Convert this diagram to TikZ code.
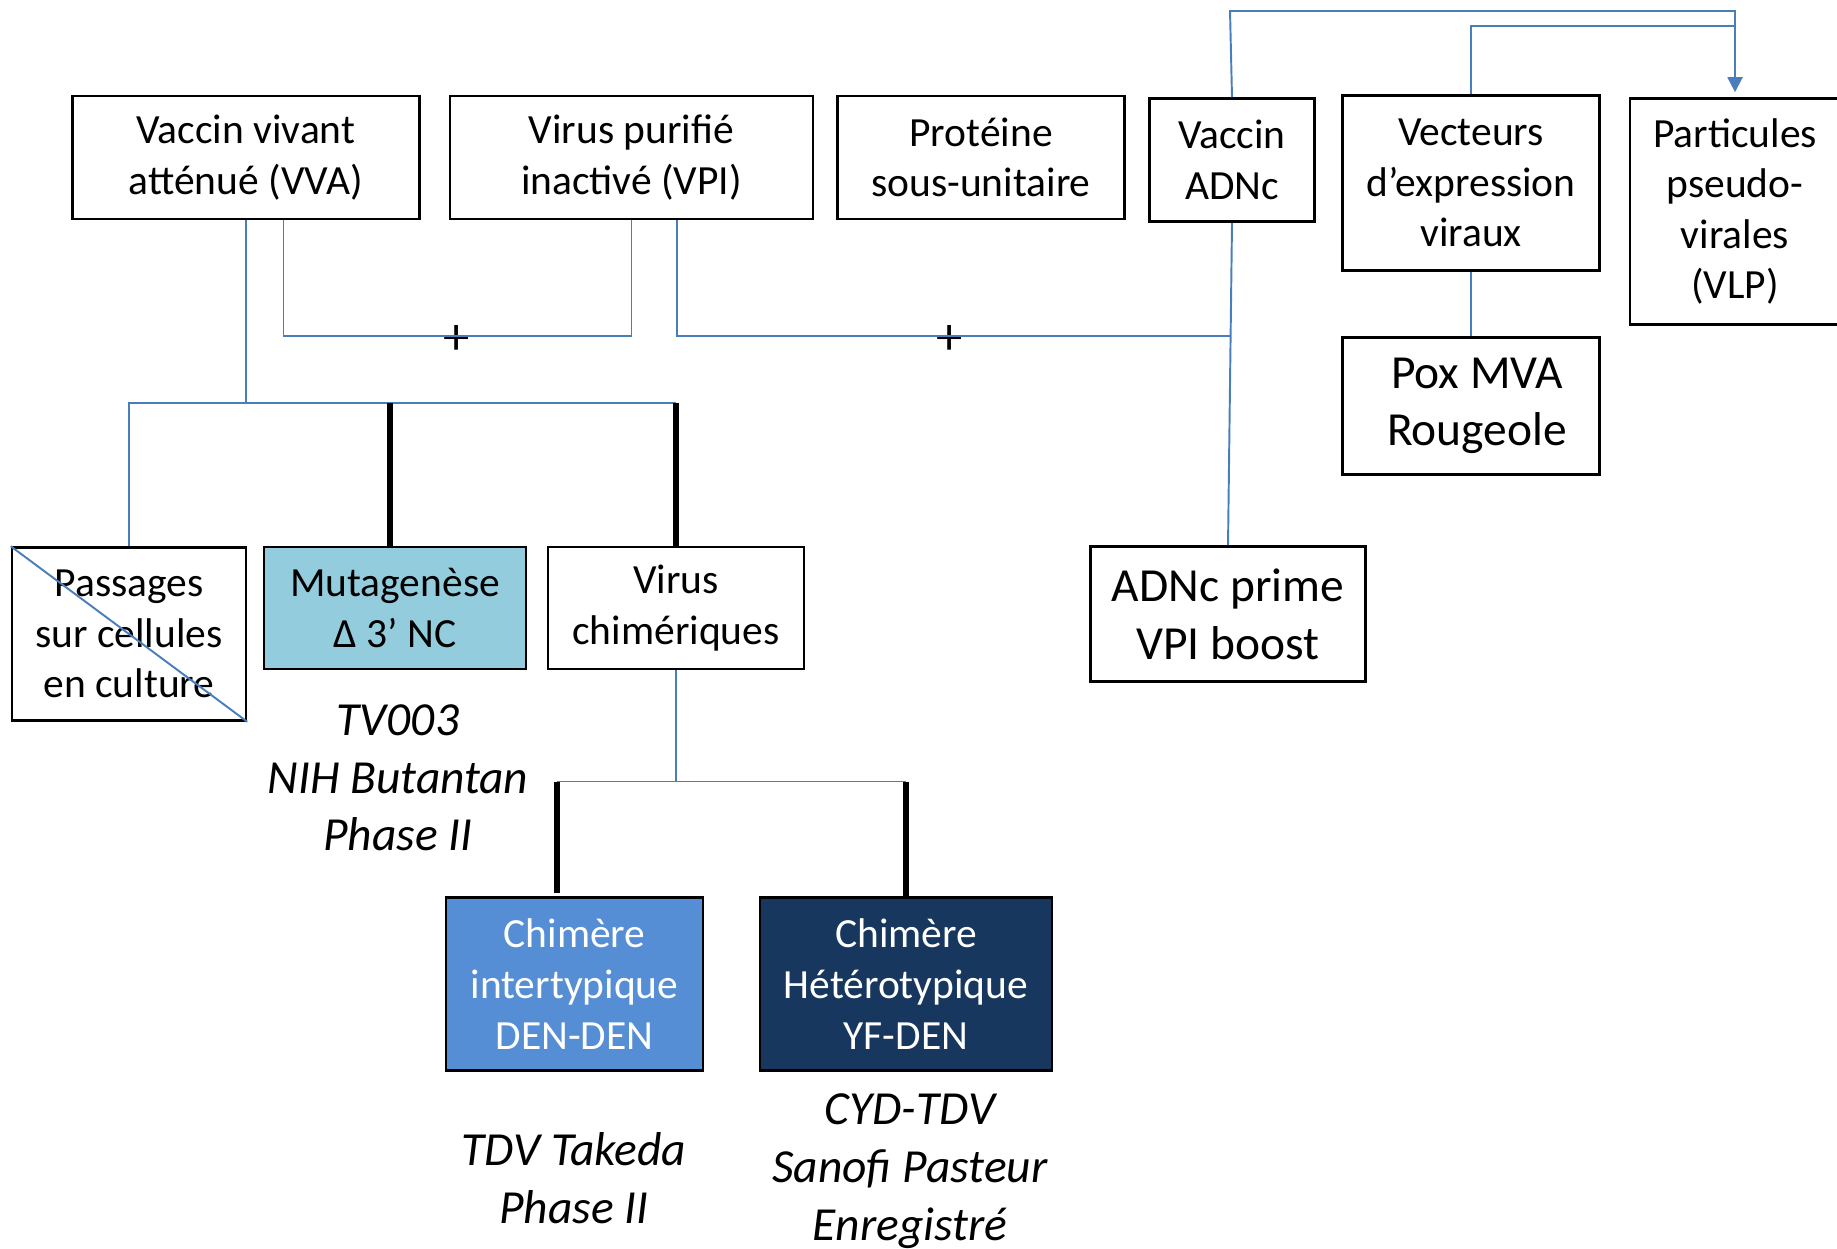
\documentclass[tikz,border=0pt]{standalone}
\usepackage{fontspec}
\setmainfont{Carlito}
\usetikzlibrary{arrows.meta}
\definecolor{lienbleu}{RGB}{74,126,187}
\definecolor{turquoise}{RGB}{147,205,221}
\definecolor{bleuvif}{RGB}{85,142,213}
\definecolor{marine}{RGB}{23,55,94}
\tikzset{
  cadre/.style={draw=black, line width=0.7pt, inner sep=0pt, align=center,
    font=\fontsize{11.8}{14.4}\selectfont},
  grandtexte/.style={font=\fontsize{13.5}{16.4}\selectfont},
  legende/.style={align=center, font=\fontsize{13.5}{16.4}\selectfont\itshape},
  signe/.style={inner sep=0pt, font=\fontsize{15}{17}\selectfont},
  trait/.style={draw=lienbleu, line width=0.55pt},
  epais/.style={draw=black, line width=1.8pt}
}
\begin{document}
\begin{tikzpicture}[x=0.01cm,y=-0.01cm]
\useasboundingbox (0,0) rectangle (1837,1248);

% premiere rangee
\node[cadre, minimum width=3.47cm, minimum height=1.23cm] (vva) at (246,157.5) {Vaccin vivant\\atténué (VVA)};
\node[cadre, minimum width=3.63cm, minimum height=1.23cm] (vpi) at (631.5,157.5) {Virus purifié\\inactivé (VPI)};
\node[cadre, minimum width=2.87cm, minimum height=1.23cm] (prot) at (981,157.5) {Protéine\\sous-unitaire};
\node[cadre, minimum width=1.65cm, minimum height=1.23cm] (adnc) at (1232,160) {Vaccin\\ADNc};
\node[cadre, minimum width=2.57cm, minimum height=1.75cm] (vect) at (1471,183) {Vecteurs\\d’expression\\viraux};
\node[cadre, minimum width=2.10cm, minimum height=2.26cm] (vlp) at (1735,211.5) {Particules\\pseudo-\\virales\\(VLP)};
\node[cadre, grandtexte, minimum width=2.57cm, minimum height=1.37cm] (pox) at (1471,406) {\hspace{0.12cm}Pox MVA\\\hspace{0.12cm}Rougeole};

% deuxieme rangee
\node[cadre, minimum width=2.34cm, minimum height=1.73cm] (passages) at (129,634) {Passages\\sur cellules\\en culture};
\node[cadre, fill=turquoise, minimum width=2.62cm, minimum height=1.22cm] (muta) at (395,608) {Mutagenèse\\Δ 3’ NC};
\node[cadre, minimum width=2.56cm, minimum height=1.22cm] (chim) at (676,608) {Virus\\chimériques};
\node[cadre, grandtexte, minimum width=2.75cm, minimum height=1.35cm] (prime) at (1228,614) {ADNc prime\\VPI boost};

% chimeres
\node[cadre, fill=bleuvif, text=white, minimum width=2.57cm, minimum height=1.73cm] (inter) at (574.5,984) {Chimère\\intertypique\\DEN-DEN};
\node[cadre, fill=marine, text=white, minimum width=2.92cm, minimum height=1.73cm] (hetero) at (906,984) {Chimère\\Hétérotypique\\YF-DEN};

% essais
\node[legende] (tv) at (398,778) {TV003\\NIH Butantan\\Phase II};
\node[legende] (takeda) at (574,1178) {TDV Takeda\\Phase II};
\node[legende] (cyd) at (910,1171) {CYD-TDV\\Sanofi Pasteur\\Enregistré};

% points de jonction
\coordinate (busL) at (129,403);
\coordinate (busR) at (676,403);
\coordinate (lienA) at (457,336);
\coordinate (lienB) at (1230,336);
\coordinate (hautA) at (1230,11);
\coordinate (hautC) at (1735,26);
\coordinate (busG) at (557,781.5);
\coordinate (busD) at (906,781.5);
\node[signe] (plusA) at (457,340) {+};
\node[signe] (plusB) at (950,340) {+};

% VVA
\draw[trait] (vva.south) -- (vva.south |- busL);
\draw[trait] (passages.north) -- (busL) -- (busR);
\draw[trait] (passages.north west) -- (passages.south east);
\draw[epais] ([xshift=-0.05cm]muta.north) -- ([xshift=-0.05cm]muta.north |- busL);
\draw[epais] (chim.north) -- (busR);

% combinaisons
\draw[trait] ([xshift=0.375cm]vva.south) |- (lienA) -| (vpi.south);
\draw[trait] ([xshift=0.455cm]vpi.south) |- (lienB);
\draw[trait] (adnc.south) -- (prime.north);

% vers les VLP
\draw[trait, -{Triangle[width=0.15cm,length=0.15cm]}] (adnc.north) -- (hautA) -| ([yshift=0.05cm]vlp.north);
\draw[trait] (vect.north) |- (hautC);
\draw[trait] (vect.south) -- (pox.north);

% chimeres
\draw[trait] (chim.south) -- (chim.south |- busG);
\draw[trait] (busG) -- (busD);
\draw[epais] (busG) -- ([yshift=0.03cm]busG |- inter.north);
\draw[epais] (busD) -- (hetero.north);

\end{tikzpicture}
\end{document}
